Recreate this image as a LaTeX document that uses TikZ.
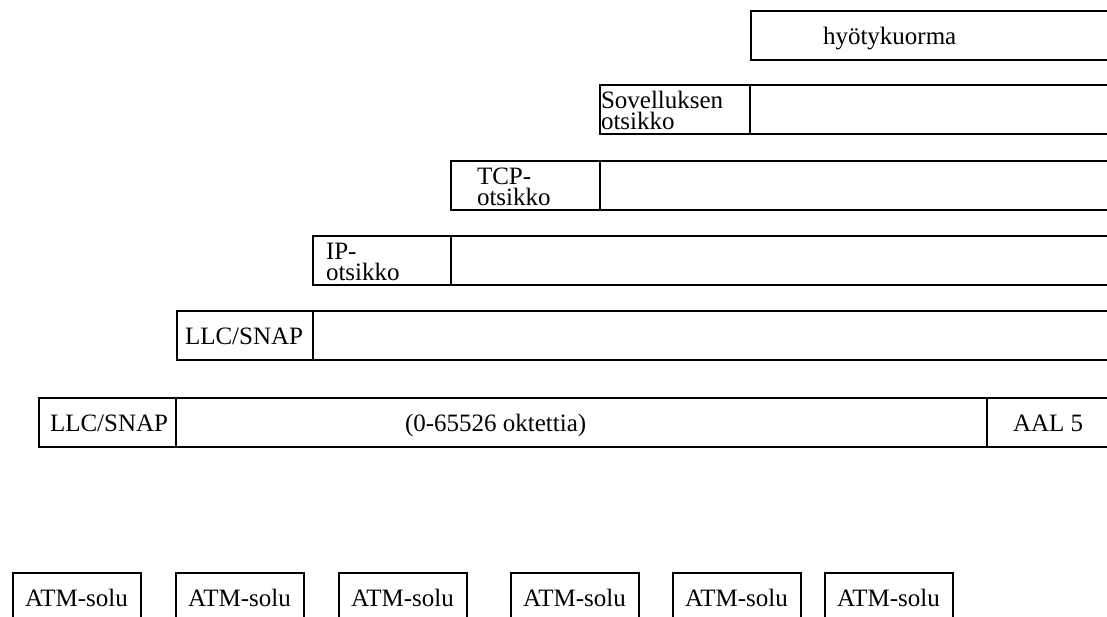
\documentclass[tikz,border=0pt]{standalone}
\usepackage{fontspec}
\setmainfont{Liberation Serif}
\begin{document}
\begin{tikzpicture}[x=1pt,y=-1pt,
  every node/.style={inner sep=0pt,outer sep=0pt},
  cell/.style={draw,line width=1.5pt,anchor=north west,minimum height=49pt},
  lbl/.style={font=\fontsize{25}{21}\selectfont,anchor=base west,align=left}]
\useasboundingbox (0,0) rectangle (1107,616);
\clip (0,0) rectangle (1107,616);
% row 1
\node[cell,minimum width=380pt] (pay) at (751,11) {};
\node[lbl] (payt) at (823,44) {hyötykuorma};
% row 2
\node[cell,minimum width=150pt] (sov) at (600,85) {};
\node[cell,minimum width=380pt] (sovb) at (750,85) {};
\node[lbl] (sovt) at (601,129) {Sovelluksen\\otsikko};
% row 3
\node[cell,minimum width=149pt] (tcp) at (451,161) {};
\node[cell,minimum width=530pt] (tcpb) at (600,161) {};
\node[lbl] (tcpt) at (477,205) {TCP-\\otsikko};
% row 4
\node[cell,minimum width=138pt] (ip) at (313,236) {};
\node[cell,minimum width=680pt] (ipb) at (451,236) {};
\node[lbl] (ipt) at (326,280) {IP-\\otsikko};
% row 5
\node[cell,minimum width=136pt] (llc) at (177,311) {};
\node[cell,minimum width=820pt] (llcb) at (313,311) {};
\node[lbl] (llct) at (185,344) {LLC/SNAP};
% row 6
\node[cell,minimum width=137pt] (llc2) at (39,398) {};
\node[cell,minimum width=811pt] (mid) at (176,398) {};
\node[cell,minimum width=140pt] (aal) at (987,398) {};
\node[lbl] (llc2t) at (50,431) {LLC/SNAP};
\node[lbl] (midt) at (405,431) {(0-65526 oktettia)};
\node[lbl] (aalt) at (1013,431) {AAL 5};
% ATM cells
\foreach \x/\n in {13/1,176/2,339/3,511/4,673/5,825/6}{
  \node[cell,minimum width=128pt,minimum height=60pt] (atm\n) at (\x,573) {};
  \node[lbl] (atmt\n) at (\x+12,606) {ATM-solu};
}
\end{tikzpicture}
\end{document}
